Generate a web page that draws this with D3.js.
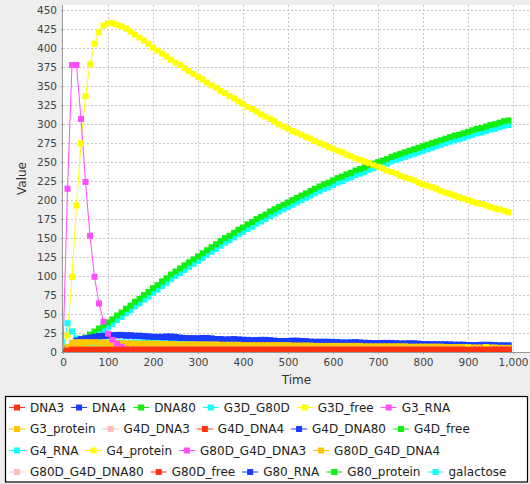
<!DOCTYPE html>
<html>
<head>
<meta charset="utf-8">
<script src="https://cdn.jsdelivr.net/npm/d3@7"></script>
<style>
body { margin: 0; background: #eeeeee; }
svg { display: block; font-family: "DejaVu Sans", sans-serif; }
</style>
</head>
<body>
<svg id="chart" width="530" height="484"></svg>
<script>
// time points of the simulation output
const times = d3.range(0, 1000, 10);

const seriesNames = [
    "DNA3", "DNA4", "DNA80", "G3D_G80D", "G3D_free", "G3_RNA", "G3_protein",
    "G4D_DNA3", "G4D_DNA4", "G4D_DNA80", "G4D_free", "G4_RNA", "G4_protein",
    "G80D_G4D_DNA3", "G80D_G4D_DNA4", "G80D_G4D_DNA80", "G80D_free",
    "G80_RNA", "G80_protein", "galactose"
];

// red, blue, green, cyan, yellow, magenta, orange, pink (repeating)
const palette = ["#ff3311", "#1a3cff", "#11ee11", "#11ffff", "#ffff00", "#ff4dff", "#ffc800", "#ffbcbc"];

const xTicks = d3.range(0, 1001, 100);
const yTicks = d3.range(0, 451, 25);

const DNA3 = [
    0,2,3,3,3,3,3,3,3,3, 3,3,3,3,3,3,3,3,3,3, 3,3,3,3,3,3,3,3,3,3, 3,3,3,3,3,3,3,3,3,3,
    3,3,3,3,3,3,3,3,3,3, 3,3,3,3,3,3,3,3,3,3, 3,3,3,3,3,3,3,3,3,3, 3,3,3,3,3,3,3,3,3,3,
    3,3,3,3,3,3,3,3,3,3, 3,3,3,3,3,3,3,3,3,3
];
const DNA4 = [
    0,1,2,2,2,2,2,2,2,2, 2,2,2,2,2,2,2,2,2,2, 2,2,2,2,2,2,2,2,2,2, 2,2,2,2,2,2,2,2,2,2,
    2,2,2,2,2,2,2,2,2,2, 2,2,2,2,2,2,2,2,2,2, 2,2,2,2,2,2,2,2,2,2, 2,2,2,2,2,2,2,2,2,2,
    2,2,2,2,2,2,2,2,2,2, 2,2,2,2,2,2,2,2,2,2
];
const DNA80 = [
    0,1,1,1,1,1,1,1,1,1, 1,1,1,1,1,1,1,1,1,1, 1,1,1,1,1,1,1,1,1,1, 1,1,1,1,1,1,1,1,1,1,
    1,1,1,1,1,1,1,1,1,1, 1,1,1,1,1,1,1,1,1,1, 1,1,1,1,1,1,1,1,1,1, 1,1,1,1,1,1,1,1,1,1,
    1,1,1,1,1,1,1,1,1,1, 1,1,1,1,1,1,1,1,1,1
];
const G3D_G80D = [
    0,0,1,1,2,2,2,2,2,2, 2,2,2,2,2,2,2,2,2,2, 2,2,2,2,2,2,2,2,2,2, 2,2,2,2,2,2,2,2,2,2,
    2,2,2,2,2,2,2,2,2,2, 2,2,2,2,2,2,2,2,2,2, 2,2,2,2,2,2,2,2,2,2, 2,2,2,2,2,2,2,2,2,2,
    2,2,2,2,2,2,2,2,2,2, 2,2,2,2,2,2,2,2,2,2
];
const G3D_free = [
    0,1,2,2,2,2,2,2,2,2, 2,2,2,2,2,2,2,2,2,2, 2,2,2,2,2,2,2,2,2,2, 2,2,2,2,2,2,2,2,2,2,
    2,2,2,2,2,2,2,2,2,2, 2,2,2,2,2,2,2,2,2,2, 2,2,2,2,2,2,2,2,2,2, 2,2,2,2,2,2,2,2,2,2,
    2,2,2,2,2,2,2,2,2,2, 6,2,2,2,6.5,2,2,2,2,2
];
const G3_RNA = [
    0,215,378,378,307,224,153,99,64,40, 24,16,11,7,4,3,3,3,3,3,
    3,3,3,3,3,3,3,3,3,3, 3,3,3,3,3,3,3,3,3,3, 3,3,3,3,3,3,3,3,3,3, 3,3,3,3,3,3,3,3,3,3,
    3,3,3,3,3,3,3,3,3,3, 3,3,3,3,3,3,3,3,3,3, 3,3,3,3,3,3,3,3,3,3, 3,3,3,3,3,3,3,3,3,3
];
const G3_protein = [
    0,7,12,13,13,13,13,13,12.5,12.5,
    12,12,12,11.5,11.5,11.5,11,11,11,11,
    11,11,10.5,10.5,10.5,10,10,10,10,10,
    10,10,10,10,10,9.5,9.5,9.5,9.5,9.5,
    9,9,9,9,9,9,9,9,9,9,
    9,8.5,8.5,8.5,8.5,8.5,8,8,8,8,
    8,8,8,8,8,8,8,7.5,7.5,7.5,
    7.5,7.5,7.5,7.5,7.5,7.5,7.5,7,7,7,
    7,7,7,7,7,6.5,6.5,6.5,6.5,6.5,
    6,6,6,6,6,6,6,5.5,5.5,5.5
];
const G4D_DNA3 = [
    0,1,1,1,1,1,1,1,1,1, 1,1,1,1,1,1,1,1,1,1, 1,1,1,1,1,1,1,1,1,1, 1,1,1,1,1,1,1,1,1,1,
    1,1,1,1,1,1,1,1,1,1, 1,1,1,1,1,1,1,1,1,1, 1,1,1,1,1,1,1,1,1,1, 1,1,1,1,1,1,1,1,1,1,
    1,1,1,1,1,1,1,1,1,1, 1,1,1,1,1,1,1,1,1,1
];
const G4D_DNA4 = [
    0,1,2,2,2,2,2,2,2,2, 2,2,2,2,2,2,2,2,2,2, 2,2,2,2,2,2,2,2,2,2, 2,2,2,2,2,2,2,2,2,2,
    2,2,2,2,2,2,2,2,2,2, 2,2,2,2,2,2,2,2,2,2, 2,2,2,2,2,2,2,2,2,2, 2,2,2,2,2,2,2,2,2,2,
    2,2,2,2,2,2,2,2,2,2, 2,2,2,2,2,2,2,2,2,2
];
const G4D_DNA80 = [
    0,5,12,15,17,18,19,20,21,21.5,
    22,22,22,22,21.5,21.5,21,21,20.5,20.5,
    20,20,19.5,19.5,19,19,18.5,18.5,18,18,
    17.5,17.5,17.5,17,17,17,16.5,16.5,16.5,16,
    16,16,15.5,15.5,15.5,15,15,15,14.5,14.5,
    14.5,14,14,14,14,13.5,13.5,13.5,13,13,
    13,13,12.5,12.5,12.5,12,12,12,12,11.5,
    11.5,11.5,11.5,11,11,11,11,11,10.5,10.5,
    10.5,10.5,10,10,10,10,9.5,9.5,9.5,9.5,
    9,9,9,9,9,8.5,8.5,8.5,8.5,8.5
];
const G4D_free = [
    0,1,1,1,1,1,1,1,1,1, 1,1,1,1,1,1,1,1,1,1, 1,1,1,1,1,1,1,1,1,1, 1,1,1,1,1,1,1,1,1,1,
    1,1,1,1,1,1,1,1,1,1, 1,1,1,1,1,1,1,1,1,1, 1,1,1,1,1,1,1,1,1,1, 1,1,1,1,1,1,1,1,1,1,
    1,1,1,1,1,1,1,1,1,1, 1,1,1,1,1,1,1,1,1,1
];
const G4_RNA = [
    0,38,27,18,14,13,12.5,12.5,12.5,12.5,
    12.5,12.5,12.5,12.5,12.5,12.5,12.5,12.5,12.5,12.5,
    12.5,12.5,12.5,12,12,12,12,12,12,12,
    12,12,12,12,12,12,11.5,11.5,11.5,11.5,
    11.5,11.5,11.5,11.5,11.5,11,11,11,11,11,
    11,11,11,11,11,10.5,10.5,10.5,10.5,10.5,
    10.5,10.5,10,10,10,10,10,10,10,10,
    10,10,10,10,10,10.5,10,9.5,9.5,9.5,
    9,9,9,9,9,9,9,9,9,8.5,
    8.5,8.5,8.5,8.5,8.5,8,8,8,8,8
];
const G4_protein = [
    0,22,99,193,275,337,379,406,421,430,
    433,433,431,429,426,422,418,414,410,406,
    401,397,393,389,385,381,378,374,370,366,
    362,359,355,351,348,344,341,337,334,330,
    327,323,320,317,313,310,307,304,300,297,
    294,291,289,286,283,281,278,275,273,270,
    268,265,263,260,258,255,253,251,249,246,
    244,242,239,237,235,232,230,228,226,223,
    221,219,217,215,212,210,208,206,204,202,
    200,198,196,195,193,191,189,188,186,184
];
const G80D_G4D_DNA3 = [
    0,0,1,1,1,1,1,1,1,1, 1,1,1,1,1,1,1,1,1,1, 1,1,1,1,1,1,1,1,1,1, 1,1,1,1,1,1,1,1,1,1,
    1,1,1,1,1,1,1,1,1,1, 1,1,1,1,1,1,1,1,1,1, 1,1,1,1,1,1,1,1,1,1, 1,1,1,1,1,1,1,1,1,1,
    1,1,1,1,1,1,1,1,1,1, 1,1,1,1,1,1,1,1,1,1
];
const G80D_G4D_DNA4 = [
    0,3,6,7,8,8,8,8,8,8,
    8,8,8,8,8,8,8,8,8,8,
    8,8,8,8,8,8,8,8,8,8,
    8,8,8,8,7.5,7.5,7.5,7.5,7.5,7.5,
    7.5,7.5,7.5,7.5,7.5,7,7,7,7,7,
    7,7,7,7,7,7,7,6.5,6.5,6.5,
    6.5,6.5,6.5,6.5,6.5,6.5,6,6,6,6,
    6,6,6,6,6,6,6,6,5.5,5.5,
    5.5,5.5,5.5,5.5,5.5,5.5,5.5,5.5,5.5,5.5,
    5,5,5,5,5,5,5,5,5,5
];
const G80D_G4D_DNA80 = [
    0,0,1,1,1,1,1,1,1,1, 1,1,1,1,1,1,1,1,1,1, 1,1,1,1,1,1,1,1,1,1, 1,1,1,1,1,1,1,1,1,1,
    1,1,1,1,1,1,1,1,1,1, 1,1,1,1,1,1,1,1,1,1, 1,1,1,1,1,1,1,1,1,1, 1,1,1,1,1,1,1,1,1,1,
    1,1,1,1,1,1,1,1,1,1, 1,1,1,1,1,1,1,1,1,1
];
const G80D_free = [
    0,1,2,2,3,3,3,3,3,3, 3,3,3,3,3,3,3,3,3,3, 3,3,3,3,3,3,3,3,3,3, 3,3,3,3,3,3,3,3,3,3,
    3,3,3,3,3,3,3,3,3,3, 3,3,3,3,3,3,3,3,3,3, 3,3,3,3,3,3,3,3,3,3, 3,3,3,3,3,3,3,3,3,3,
    3,3,3,3,3,3,3,3,3,3, 3,3,3,3,3,3,3,3,3,3
];
const G80_RNA = [
    0,3,8,12,15,17,18,19,20,21,
    21.5,22,22.5,22.5,22,22,21.5,21.5,21,20,
    19.5,19.5,20,20.5,20.5,20,19,18,18,18,
    18,18.5,18.5,18,17,16.5,16,16.5,17,16.5,
    16,15.5,15,15.5,16,16,15.5,14.5,14,14,
    14.5,15,15,14.5,14,13.5,13,13,13.5,13.5,
    13,12.5,12,12,12.5,13,12.5,12,11.5,11.5,
    11.5,12,12,12,11.5,11,11,11.5,11.5,11,
    10.5,10,10,10,10,10,10,9.5,9.5,9.5,
    9,9,9,9.5,9.5,9.5,9,8.5,8.5,8.5
];
const G80_protein = [
    0,3,7,11,15,19,23,27,31,35,
    39,43,48,52,57,61,66,70,75,79,
    84,88,93,97,102,106,110,114,118,122,
    126,130,134,138,142,146,150,153,157,161,
    164,168,171,175,178,181,185,188,191,194,
    197,200,203,206,209,212,215,218,221,223,
    226,229,231,234,236,239,241,243,246,248,
    250,252,254,257,259,261,263,265,267,269,
    271,273,275,277,279,281,283,285,286,288,
    290,292,294,295,297,299,300,302,304,305
];
const galactose = [
    0,0,2,5,9,13,17,21,25,29,
    33,37,42,46,51,55,60,64,69,73,
    78,82,87,91,96,100,104,108,112,116,
    120,124,128,132,136,140,144,147,151,155,
    158,162,165,169,172,175,179,182,185,188,
    191,194,197,200,203,206,209,212,215,217,
    220,223,225,228,230,233,235,237,240,242,
    244,246,248,251,253,255,257,259,261,263,
    265,267,269,271,273,275,277,279,280,282,
    284,286,288,289,291,293,294,296,298,299
];

const seriesValues = [
    DNA3, DNA4, DNA80, G3D_G80D, G3D_free, G3_RNA, G3_protein,
    G4D_DNA3, G4D_DNA4, G4D_DNA80, G4D_free, G4_RNA, G4_protein,
    G80D_G4D_DNA3, G80D_G4D_DNA4, G80D_G4D_DNA80, G80D_free,
    G80_RNA, G80_protein, galactose
];

const series = seriesNames.map((name, i) => ({
    name: name,
    color: palette[i % palette.length],
    points: times.map((t, j) => ({ t: t, v: seriesValues[i][j] }))
}));

const svg = d3.select('#chart');
const plot = { left: 63, top: 5, right: 530, bottom: 352 };

const x = d3.scaleLinear().domain([0, 1000]).range([63, 513]);
const y = d3.scaleLinear().domain([0, 457]).range([plot.bottom, plot.top]);

svg.append('rect')
    .attr('width', 530).attr('height', 484)
    .attr('fill', '#eeeeee');

svg.append('rect')
    .attr('x', plot.left).attr('y', plot.top)
    .attr('width', plot.right - plot.left)
    .attr('height', plot.bottom - plot.top)
    .attr('fill', '#ffffff');

// grid
const grid = svg.append('g')
    .attr('stroke', '#c8c8c8')
    .attr('stroke-width', 1)
    .attr('stroke-dasharray', '2,2');

grid.selectAll('line.gx')
    .data(xTicks.filter(d => d > 0))
    .join('line')
    .attr('class', 'gx')
    .attr('x1', d => Math.round(x(d)) + 0.5)
    .attr('x2', d => Math.round(x(d)) + 0.5)
    .attr('y1', plot.top)
    .attr('y2', plot.bottom);

grid.selectAll('line.gy')
    .data(yTicks.filter(d => d > 0))
    .join('line')
    .attr('class', 'gy')
    .attr('x1', plot.left)
    .attr('x2', plot.right)
    .attr('y1', d => Math.round(y(d)) + 0.5)
    .attr('y2', d => Math.round(y(d)) + 0.5);

// data
svg.append('clipPath').attr('id', 'plot-clip')
    .append('rect')
    .attr('x', plot.left).attr('y', plot.top)
    .attr('width', plot.right - plot.left)
    .attr('height', plot.bottom - plot.top);

const dataLayer = svg.append('g').attr('clip-path', 'url(#plot-clip)');

// later series are drawn first, so the first series ends up on top
const drawOrder = series.slice().reverse();

const line = d3.line()
    .x(d => x(d.t))
    .y(d => y(d.v));

dataLayer.append('g')
    .selectAll('path')
    .data(drawOrder)
    .join('path')
    .attr('fill', 'none')
    .attr('stroke', d => d.color)
    .attr('stroke-width', 1)
    .attr('d', d => line(d.points));

const markerSize = 6;

dataLayer.append('g')
    .selectAll('g')
    .data(drawOrder)
    .join('g')
    .attr('fill', d => d.color)
    .selectAll('rect')
    .data(d => d.points)
    .join('rect')
    .attr('x', d => x(d.t) - markerSize / 2)
    .attr('y', d => y(d.v) - markerSize / 2)
    .attr('width', markerSize)
    .attr('height', markerSize);

// axes
const xAxis = svg.append('g')
    .attr('transform', `translate(0,${plot.bottom})`)
    .call(d3.axisBottom(x)
        .tickValues(xTicks)
        .tickFormat(d3.format(','))
        .tickSize(2)
        .tickPadding(5));

const yAxis = svg.append('g')
    .attr('transform', `translate(${plot.left},0)`)
    .call(d3.axisLeft(y)
        .tickValues(yTicks)
        .tickSize(2)
        .tickPadding(4));

[xAxis, yAxis].forEach(a => {
    a.attr('font-family', '"DejaVu Sans", sans-serif')
        .attr('font-size', 10.5);
    a.selectAll('text').attr('fill', '#444444');
    a.selectAll('line').attr('stroke', '#999999');
    a.select('.domain').remove();
});

svg.append('line')
    .attr('x1', plot.left - 0.5).attr('x2', plot.left - 0.5)
    .attr('y1', plot.top).attr('y2', plot.bottom + 0.5)
    .attr('stroke', '#999999');

svg.append('line')
    .attr('x1', plot.left - 0.5).attr('x2', plot.right)
    .attr('y1', plot.bottom + 0.5).attr('y2', plot.bottom + 0.5)
    .attr('stroke', '#999999');

svg.append('text')
    .attr('x', (plot.left + plot.right) / 2)
    .attr('y', 384)
    .attr('text-anchor', 'middle')
    .attr('font-size', 12)
    .attr('fill', '#333333')
    .text('Time');

svg.append('text')
    .attr('transform', `translate(26,${(plot.top + plot.bottom) / 2}) rotate(-90)`)
    .attr('text-anchor', 'middle')
    .attr('font-size', 12)
    .attr('fill', '#333333')
    .text('Value');

// legend
const legendBox = { x: 5.5, y: 396.5, w: 522, h: 85.5 };

svg.append('rect')
    .attr('x', legendBox.x).attr('y', legendBox.y)
    .attr('width', legendBox.w).attr('height', legendBox.h)
    .attr('fill', '#ffffff')
    .attr('stroke', '#000000')
    .attr('stroke-width', 1.2);

const legend = svg.append('g').attr('font-size', 12).attr('fill', '#222222');

let lx = 9;
let row = 0;
const rowY = r => 407.5 + r * 21.5;

series.forEach(s => {
    const item = legend.append('g');
    const label = item.append('text')
        .attr('x', 21)
        .attr('dy', '0.35em')
        .text(s.name);
    const w = 21 + label.node().getComputedTextLength();
    if (lx + w > 522) {
        lx = 9;
        row += 1;
    }
    item.attr('transform', `translate(${lx},${rowY(row)})`);
    item.append('line')
        .attr('x1', 0).attr('x2', 16)
        .attr('stroke', s.color)
        .attr('stroke-width', 1);
    item.append('rect')
        .attr('x', 8 - markerSize / 2).attr('y', -markerSize / 2)
        .attr('width', markerSize).attr('height', markerSize)
        .attr('fill', s.color);
    lx += w + 7;
});
</script>
</body>
</html>
